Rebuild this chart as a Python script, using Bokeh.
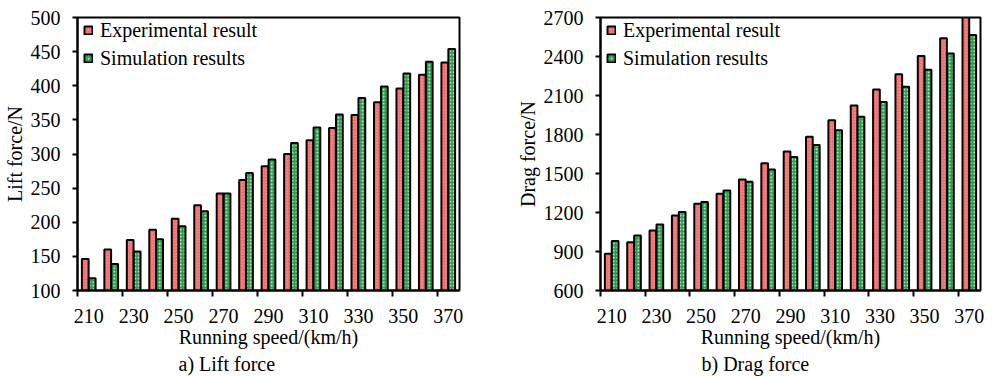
from bokeh.plotting import figure
from bokeh.layouts import row
from bokeh.models import ColumnDataSource, FixedTicker, Legend, LegendItem, Title, Range1d
from bokeh.transform import dodge
from bokeh.embed import file_html
from bokeh.resources import INLINE

speeds = [210, 220, 230, 240, 250, 260, 270, 280, 290, 300, 310, 320, 330, 340, 350, 360, 370]
lift_exp = [146, 160, 174, 189, 205, 225, 242, 262, 282, 300, 320, 338, 357, 376, 396, 416, 434]
lift_sim = [118, 139, 157, 175, 194, 216, 242, 272, 292, 316, 339, 358, 382, 399, 418, 435, 454]
drag_exp = [882, 972, 1062, 1177, 1267, 1344, 1454, 1578, 1670, 1783, 1909, 2024, 2147, 2263, 2404, 2540, 2730]
drag_sim = [980, 1023, 1108, 1203, 1280, 1370, 1436, 1531, 1626, 1719, 1832, 1937, 2050, 2168, 2299, 2424, 2566]
x_tick_labels = [210, 230, 250, 270, 290, 310, 330, 350, 370]
lift_ticks = [100, 150, 200, 250, 300, 350, 400, 450, 500]
drag_ticks = [600, 900, 1200, 1500, 1800, 2100, 2400, 2700]
series_names = ["Experimental result", "Simulation results"]
titles = ["a) Lift force", "b) Drag force"]
ylabels = ["Lift force/N", "Drag force/N"]
xlabel = "Running speed/(km/h)"

FONT = "Liberation Serif"
RED = "#f26e6e"
GREEN = "#2a9d4c"


def make(exp, sim, yticks, ylabel, title, left_border, right_border, frame_w):
    src = ColumnDataSource(dict(x=speeds, exp=exp, sim=sim))
    p = figure(frame_width=frame_w, frame_height=273,
               min_border_left=left_border, min_border_right=right_border,
               min_border_top=17, min_border_bottom=87,
               x_range=Range1d(205, 375), y_range=Range1d(yticks[0], yticks[-1]),
               output_backend="svg", toolbar_location=None,
               background_fill_color="white", border_fill_color="white")
    r1 = p.vbar(x=dodge("x", -1.55, range=p.x_range), top="exp", bottom=yticks[0], width=3.0,
                source=src, fill_color=RED, line_color="black", line_width=2,
                hatch_pattern="dot", hatch_color="white", hatch_alpha=0.35,
                hatch_scale=3, hatch_weight=1)
    r2 = p.vbar(x=dodge("x", 1.55, range=p.x_range), top="sim", bottom=yticks[0], width=3.0,
                source=src, fill_color=GREEN, line_color="black", line_width=2,
                hatch_pattern="dot", hatch_color="white", hatch_alpha=0.9,
                hatch_scale=3.5, hatch_weight=1.3)
    p.xgrid.visible = False
    p.ygrid.visible = False
    p.outline_line_color = "black"
    p.outline_line_width = 2
    p.outline_line_alpha = 1

    xt = FixedTicker(ticks=x_tick_labels, minor_ticks=[s - 5 for s in x_tick_labels])
    p.xaxis.ticker = xt
    p.xaxis.major_tick_in = 0
    p.xaxis.major_tick_out = 0
    p.xaxis.minor_tick_in = 0
    p.xaxis.minor_tick_out = 6
    p.xaxis.minor_tick_line_width = 2
    p.xaxis.minor_tick_line_color = "black"
    p.xaxis.major_label_standoff = 12
    p.xaxis.axis_label = xlabel
    p.xaxis.axis_label_standoff = 0

    p.yaxis.ticker = FixedTicker(ticks=yticks, minor_ticks=[])
    p.yaxis.major_tick_in = 0
    p.yaxis.major_tick_out = 5
    p.yaxis.major_tick_line_width = 2
    p.yaxis.major_label_standoff = 12
    p.yaxis.axis_label = ylabel
    p.yaxis.axis_label_standoff = 2

    for ax in (p.xaxis[0], p.yaxis[0]):
        ax.axis_line_width = 2
        ax.axis_line_color = "black"
        ax.major_tick_line_color = "black"
        ax.major_label_text_font = FONT
        ax.major_label_text_font_size = "20px"
        ax.major_label_text_color = "black"
        ax.axis_label_text_font = FONT
        ax.axis_label_text_font_size = "20px"
        ax.axis_label_text_font_style = "normal"
        ax.axis_label_text_color = "black"

    leg = Legend(items=[LegendItem(label=series_names[0], renderers=[r1]),
                        LegendItem(label=series_names[1], renderers=[r2])],
                 location=(6, 220), orientation="vertical",
                 border_line_color=None, background_fill_alpha=0,
                 padding=0, margin=0, spacing=4,
                 glyph_width=10, glyph_height=10, label_height=24,
                 label_standoff=7,
                 label_text_font=FONT, label_text_font_size="20px",
                 label_text_color="black")
    p.add_layout(leg)

    t = Title(text=title, align="left", offset=101,
              text_font=FONT, text_font_size="20px", text_font_style="normal",
              text_color="black", standoff=0)
    p.add_layout(t, "below")
    return p


p1 = make(lift_exp, lift_sim, lift_ticks, ylabels[0], titles[0], 77, 37, 382)
p2 = make(drag_exp, drag_sim, drag_ticks, ylabels[1], titles[1], 104, 13, 380)
p = row(p1, p2)

open("out.html", "w").write(file_html(p, INLINE))
